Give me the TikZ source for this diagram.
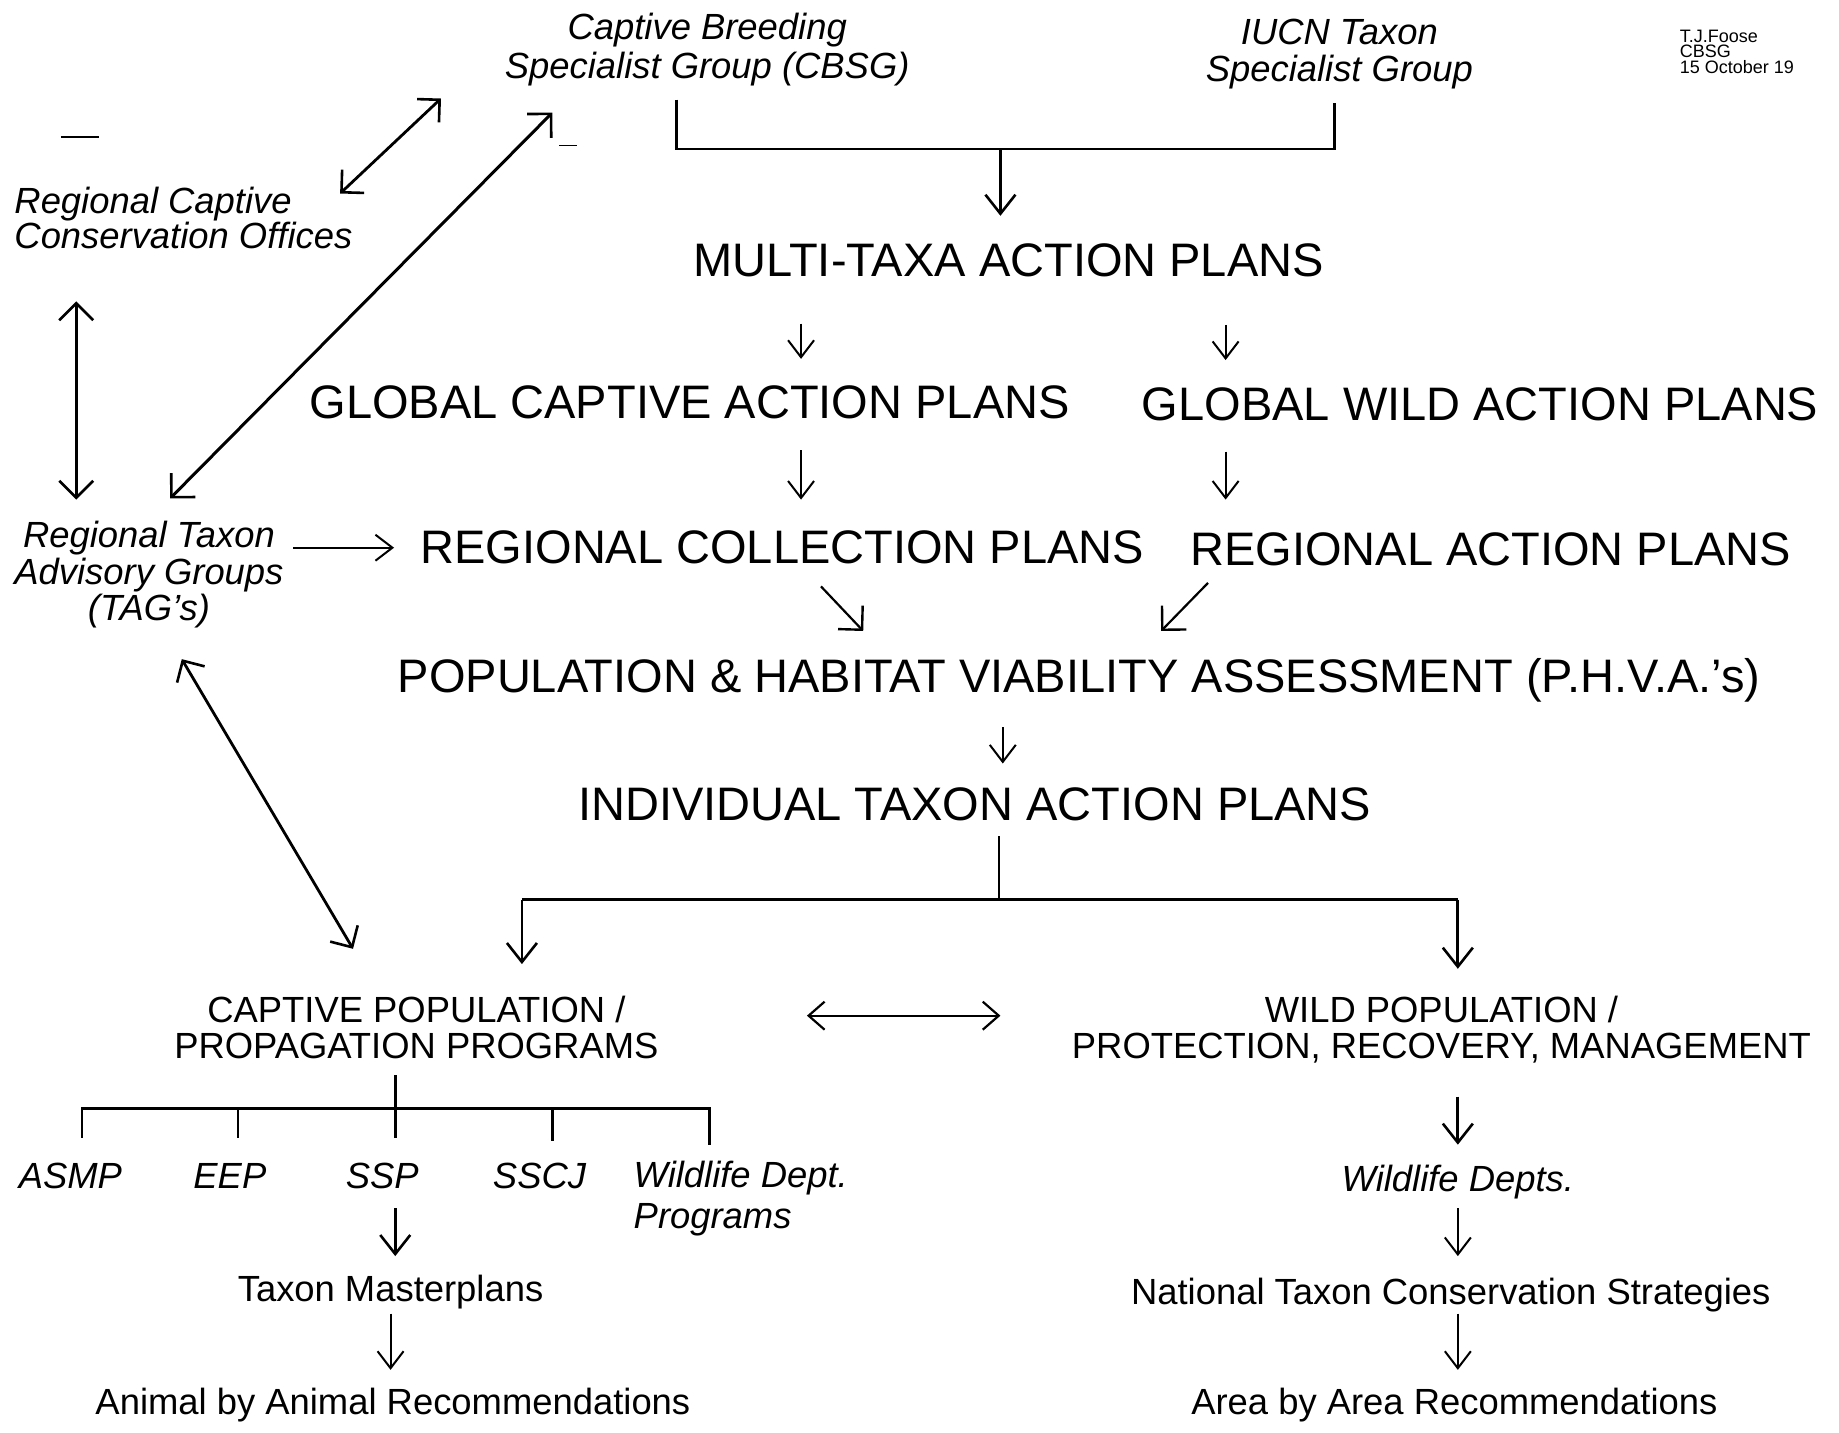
\documentclass[tikz,border=0pt]{standalone}
\usepackage{fontspec}
\setmainfont{Liberation Sans}
\usetikzlibrary{arrows.meta}
\begin{document}
\begin{tikzpicture}[x=0.5864pt,y=-0.5864pt,
  big/.style={font=\fontsize{23.5}{26}\selectfont, inner sep=0pt},
  norm/.style={font=\fontsize{18.2}{18.2}\selectfont, inner sep=0pt},
  ital/.style={font=\fontsize{18.2}{18.2}\selectfont\itshape, inner sep=0pt},
  arr/.style={-{Straight Barb[length=8.5pt,width=13pt,line width=1pt]}, line width=1pt},
  arrb/.style={-{Straight Barb[length=9.5pt,width=15pt,line width=1.3pt]}, line width=1.4pt},
  darr/.style={{Straight Barb[length=8.5pt,width=17pt,line width=1.3pt]}-{Straight Barb[length=8.5pt,width=17pt,line width=1.3pt]}, line width=1.5pt},
  darrt/.style={{Straight Barb[length=8pt,width=14pt,line width=1.1pt]}-{Straight Barb[length=8pt,width=14pt,line width=1.1pt]}, line width=1.1pt},
  darrm/.style={{Straight Barb[length=8pt,width=16pt,line width=1.3pt]}-{Straight Barb[length=8pt,width=16pt,line width=1.3pt]}, line width=1.4pt},
  diag/.style={-{Straight Barb[length=8.5pt,width=17pt,line width=1.2pt]}, line width=1.1pt},
  bracket/.style={line width=1.4pt},
  thin/.style={line width=0.8pt}]
\useasboundingbox (0,0) rectangle (1568,1221);

% ---------- top nodes
\node[ital, align=center, font=\fontsize{18.2}{19.4}\selectfont\itshape] (cbsg) at (603,42) {Captive Breeding\\Specialist Group (CBSG)};
\node[ital, align=center, font=\fontsize{18.2}{18.8}\selectfont\itshape] (iucn) at (1142,46) {IUCN Taxon\\Specialist Group};
\node[anchor=north west, inner sep=0pt, align=left, font=\fontsize{9}{7.8}\selectfont] (sig) at (1432,25) {T.J.Foose\\CBSG\\15 October 19};

\node[ital, anchor=west, align=left, font=\fontsize{18.2}{17.6}\selectfont\itshape] (rcco) at (12,186) {Regional Captive\\Conservation Offices};
\node[ital, align=center, font=\fontsize{18.2}{18.2}\selectfont\itshape] (tag) at (127,490) {Regional Taxon\\Advisory Groups\\(TAG's)};

% ---------- central column
\node[big] (multi) at (860,222) {MULTI-TAXA ACTION PLANS};
\node[big] (gcap) at (588,343) {GLOBAL CAPTIVE ACTION PLANS};
\node[big] (gwild) at (1262,345) {GLOBAL WILD ACTION PLANS};
\node[big] (rcoll) at (667,467) {REGIONAL COLLECTION PLANS};
\node[big] (ract) at (1271,468) {REGIONAL ACTION PLANS};
\node[big] (phva) at (920,580) {POPULATION \& HABITAT VIABILITY ASSESSMENT (P.H.V.A.'s)};
\node[big] (itap) at (831,686) {INDIVIDUAL TAXON ACTION PLANS};

% ---------- lower part
\node[norm, align=center, font=\fontsize{18.2}{17.6}\selectfont] (cpop) at (355,876) {CAPTIVE POPULATION /\\PROPAGATION PROGRAMS};
\node[norm, align=center, font=\fontsize{18.2}{18.2}\selectfont] (wpop) at (1229,878) {WILD POPULATION /\\PROTECTION, RECOVERY, MANAGEMENT};

\node[ital] (asmp) at (60,1003) {ASMP};
\node[ital] (eep) at (196,1003) {EEP};
\node[ital] (ssp) at (326,1003) {SSP};
\node[ital] (sscj) at (460,1003) {SSCJ};
\node[ital, anchor=west, align=left, font=\fontsize{18.2}{20.5}\selectfont\itshape] (wdp) at (540,1022) {Wildlife Dept.\\Programs};

\node[norm] (tmp) at (333,1102) {Taxon Masterplans};
\node[norm] (aar) at (335,1198) {Animal by Animal Recommendations};

\node[ital] (wdepts) at (1243,1008) {Wildlife Depts.};
\node[norm] (ntcs) at (1237,1104) {National Taxon Conservation Strategies};
\node[norm] (aaar) at (1240,1198) {Area by Area Recommendations};

% ---------- named coordinates for connector ends
\coordinate (cb0) at (577,85);
\coordinate (cbh) at (577,127);
\coordinate (iuh) at (1138,127);
\coordinate (iu0) at (1138,88);
\coordinate (mj) at (853,127);
\coordinate (mt) at (853,184);

% CBSG / IUCN bracket
\draw[bracket] (cb0) -- (cbh) -- (iuh) -- (iu0);
\draw[arrb] (mj) -- (mt);

% vertical arrows in central column
\draw[arr] (683,276) -- (683,306);
\draw[arr] (1045,277) -- (1045,307);
\draw[arr] (683,384) -- (683,426);
\draw[arr] (1045,385) -- (1045,426);
\draw[diag] (700,500) -- (736,538);
\draw[diag] (1030,497) -- (990,538);
\draw[arr] (855,620) -- (855,651);

% individual taxon bracket
\coordinate (it0) at (852,713);
\coordinate (itj) at (852,767);
\coordinate (itl) at (445,767);
\coordinate (itr) at (1243,767);
\draw[thin] (it0) -- (itj);
\draw[bracket] (itl) -- (itr);
\draw[arrb] (itl) -- (445,822);
\draw[arrb] (itr) -- (1243,826);

% captive <-> wild
\draw[darrt] (688,866) -- (853,866);

% captive program tree
\draw[bracket] (337,917) -- (337,970);
\draw[bracket] (70,970) -- (70,945) -- (605,945) -- (605,976);
\draw[bracket] (203,945) -- (203,970);
\draw[bracket] (471,945) -- (471,973);
\draw[arrb] (337,1030) -- (337,1071);
\draw[arr] (333,1120) -- (333,1168);

% wild side
\draw[arrb] (1243,935) -- (1243,976);
\draw[arr] (1243,1030) -- (1243,1071);
\draw[arr] (1243,1120) -- (1243,1168);

% left side
\draw[arr] (250,467) -- (336,467);
\draw[darrm] (290,165) -- (376,84);
\draw[darr] (145,425) -- (471,96);
\draw[darr] (65,257) -- (65,426);
\draw[darrm] (155,562) -- (301,809);

% small stray marks
\draw[thin] (52,117) -- (84,117);
\draw[thin] (477,124) -- (492,124);
\end{tikzpicture}
\end{document}
